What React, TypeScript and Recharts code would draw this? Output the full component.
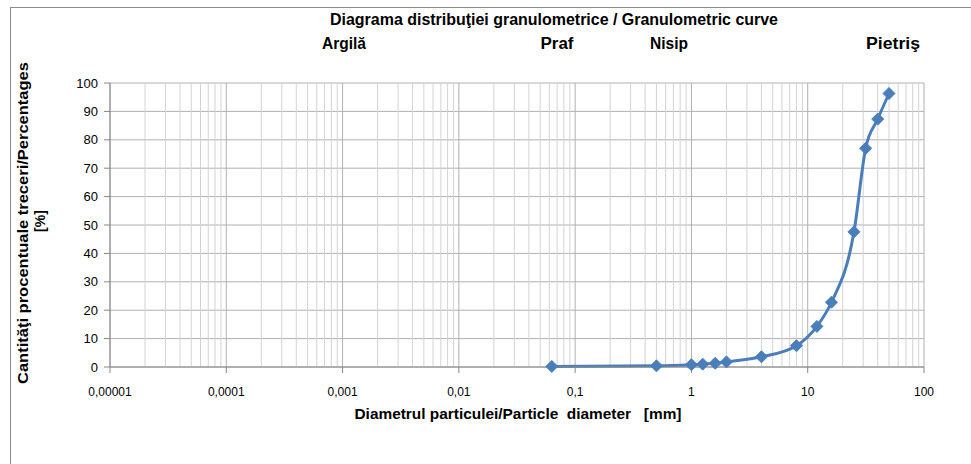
import React from 'react';
import { LineChart, Line, XAxis, YAxis, CartesianGrid, ReferenceLine } from 'recharts';

// Sieve diameters [mm] and cumulative passing [%]
const diameters = [0.063, 0.5, 1, 1.25, 1.6, 2, 4, 8, 12, 16, 25, 31.5, 40, 50];
const passing = [0.2, 0.4, 0.8, 1.0, 1.3, 1.8, 3.6, 7.5, 14.3, 22.8, 47.6, 77, 87.3, 96.3];

const xTicks = [0.00001, 0.0001, 0.001, 0.01, 0.1, 1, 10, 100];
const xTickLabels = ['0,00001', '0,0001', '0,001', '0,01', '0,1', '1', '10', '100'];
const yTicks = [0, 10, 20, 30, 40, 50, 60, 70, 80, 90, 100];
const minorMultipliers = [2, 3, 4, 5, 6, 7, 8, 9];

const title = 'Diagrama distribuţiei granulometrice / Granulometric curve';
const classLabels = ['Argilă', 'Praf', 'Nisip', 'Pietriş'];
const xTitle = 'Diametrul particulei/Particle  diameter   [mm]';
const yTitle = 'Cantităţi procentuale treceri/Percentages';
const yTitle2 = '[%]';

const data = diameters.map((d, i) => ({ d, p: passing[i] }));
const minorLines: number[] = [];
xTicks.slice(0, -1).forEach((dec) => minorMultipliers.forEach((m) => minorLines.push(dec * m)));

const FONT = '"Liberation Sans", Arial, sans-serif';
const BLUE = '#4A7EBB';

const Diamond = (props: any) => {
  const { cx, cy, index } = props;
  if (cx == null || cy == null) return null;
  const r = 6;
  return (
    <path
      key={`dm-${index}`}
      d={`M${cx},${cy - r}L${cx + r},${cy}L${cx},${cy + r}L${cx - r},${cy}Z`}
      fill={BLUE}
      stroke={BLUE}
      strokeWidth={1}
    />
  );
};

const tickFmt = (v: number) => {
  const i = xTicks.findIndex((t) => Math.abs(Math.log10(t) - Math.log10(v)) < 1e-6);
  return i >= 0 ? xTickLabels[i] : '';
};

export default function App() {
  return (
    <div style={{ position: 'absolute', left: 0, top: 0, width: 971, height: 464, background: '#fff', overflow: 'hidden' }}>
      <div style={{ position: 'absolute', left: 10, top: 7, width: 1000, height: 500, border: '1px solid #8c8c8c', boxSizing: 'border-box' }} />
      <div style={{ position: 'absolute', left: 0, top: 0 }}>
        <LineChart width={971} height={464} data={data} margin={{ top: 83, right: 47, bottom: 47, left: 0 }}>
          <CartesianGrid stroke="#b0b0b0" strokeWidth={1} />
          {minorLines.map((v) => (
            <ReferenceLine key={`m-${v}`} x={v} stroke="#d3d3d3" strokeWidth={1} ifOverflow="hidden" />
          ))}
          <XAxis
            dataKey="d"
            type="number"
            scale="log"
            domain={[0.00001, 100]}
            ticks={xTicks}
            tickFormatter={tickFmt}
            allowDataOverflow
            height={50}
            tickSize={6}
            tickMargin={14}
            stroke="#868686"
            tick={{ fill: '#000', fontSize: 12, fontFamily: FONT }}
            interval={0}
          />
          <YAxis
            type="number"
            domain={[0, 100]}
            ticks={yTicks}
            width={110}
            tickSize={6}
            tickMargin={6}
            stroke="#868686"
            tick={{ fill: '#000', fontSize: 13, fontFamily: FONT }}
            interval={0}
          />
          <Line
            dataKey="p"
            type="monotone"
            stroke={BLUE}
            strokeWidth={3}
            dot={Diamond}
            activeDot={false}
            isAnimationActive={false}
          />
        </LineChart>
      </div>
      <svg width={971} height={464} style={{ position: 'absolute', left: 0, top: 0, pointerEvents: 'none', whiteSpace: 'pre' }}>
        <g fontFamily={FONT} fontWeight="bold" fill="#000">
          <text x={554} y={25} fontSize={16} textAnchor="middle" textLength={448} lengthAdjust="spacingAndGlyphs">{title}</text>
          <text x={344} y={49} fontSize={16} textAnchor="middle" textLength={44} lengthAdjust="spacingAndGlyphs">{classLabels[0]}</text>
          <text x={557} y={49} fontSize={16} textAnchor="middle" textLength={33} lengthAdjust="spacingAndGlyphs">{classLabels[1]}</text>
          <text x={669} y={49} fontSize={16} textAnchor="middle" textLength={38} lengthAdjust="spacingAndGlyphs">{classLabels[2]}</text>
          <text x={893} y={49} fontSize={16} textAnchor="middle" textLength={54} lengthAdjust="spacingAndGlyphs">{classLabels[3]}</text>
          <text x={518} y={419} fontSize={15} textAnchor="middle" textLength={327} lengthAdjust="spacingAndGlyphs" xmlSpace="preserve" style={{ whiteSpace: 'pre' }}>{xTitle}</text>
          <text x={0} y={0} fontSize={14} textAnchor="middle" transform="translate(28,223) rotate(-90)" textLength={322} lengthAdjust="spacingAndGlyphs">{yTitle}</text>
          <text x={0} y={0} fontSize={14} textAnchor="middle" transform="translate(45,221) rotate(-90)">{yTitle2}</text>
        </g>
      </svg>
    </div>
  );
}
